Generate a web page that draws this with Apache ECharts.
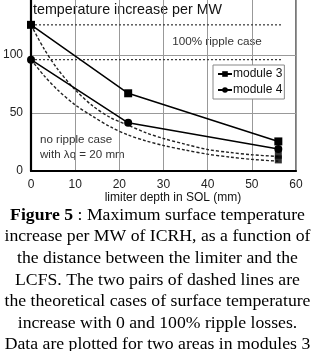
<!DOCTYPE html>
<html><head><meta charset="utf-8">
<script src="https://cdn.jsdelivr.net/npm/echarts@6/dist/echarts.min.js"></script>
<style>html,body{margin:0;padding:0;background:#fff;}#c{width:315px;height:351px;}</style>
</head><body><div id="c"></div>
<script>
// Data
var xTicks = [0, 10, 20, 30, 40, 50, 60];
var yTicks = [0, 50, 100, 150];
var depthMeasured = [0, 22, 56];
var module3 = [126, 67, 25.5];
var module4 = [96, 41.5, 19];
var depthTheory = [0, 3, 6, 10, 14, 18, 22, 26, 30, 35, 40, 45, 50, 56];
var noRippleHigh = [126, 105, 88, 70, 56, 46, 39.5, 33, 28, 23, 18.5, 16, 14, 12.5];
var noRippleLow = [96, 82, 70, 57, 47, 38, 31, 26, 22, 18, 14.5, 12, 10, 8.5];
var rippleDepth = [0, 56.7];
var rippleHigh = [126, 126];
var rippleLow = [96, 96];
var extraDepth = [56, 56];
var extraValues = [14, 10];
var captionLines = [
  "Maximum surface temperature",
  "increase per MW of ICRH, as a function of",
  "the distance between the limiter and the",
  "LCFS. The two pairs of dashed lines are",
  "the theoretical cases of surface temperature",
  "increase with 0 and 100% ripple losses.",
  "Data are plotted for two areas in modules 3"
];

function pairs(xs, ys){ return xs.map(function(x,i){return [x, ys[i]];}); }

var chart = echarts.init(document.getElementById('c'));
var sans = 'Liberation Sans, Arial, sans-serif';
var serif = 'Liberation Serif, Times New Roman, serif';
var dashStyle = {color:'#222', width:1.4, type:[3,2]};
var graphics = [
  {type:'text', left:33, top:3, style:{text:'temperature increase per MW', font:'14.3px '+sans, fill:'#111'}},
  {type:'text', x:217, y:42, style:{text:'100% ripple case', font:'11.7px '+sans, fill:'#333', align:'center', verticalAlign:'middle'}},
  {type:'text', x:40, y:140, style:{text:'no ripple case', font:'11.6px '+sans, fill:'#333', align:'left', verticalAlign:'middle'}},
  {type:'text', x:40, y:155, style:{text:'with \u03bbq = 20 mm', font:'11.6px '+sans, fill:'#333', align:'left', verticalAlign:'middle'}},
  {type:'text', x:173, y:198, style:{text:'limiter depth in SOL (mm)', font:'12px '+sans, fill:'#111', align:'center', verticalAlign:'middle'}}
];
var capY = [215, 236.7, 258.3, 280, 301.7, 323.3, 344.5];
captionLines.forEach(function(t,i){
  if(i===0){
    graphics.push({type:'text', x:157.5, y:capY[i], style:{
      text:'{b|Figure 5} : ' + t, align:'center', verticalAlign:'middle', fill:'#000', font:'17.7px '+serif,
      rich:{b:{fontWeight:'bold', fontFamily:serif, fontSize:17.7}}}});
  } else {
    graphics.push({type:'text', x:157.5, y:capY[i], style:{text:t, align:'center', verticalAlign:'middle', fill:'#000', font:'17.7px '+serif}});
  }
});

chart.setOption({
  animation:false,
  backgroundColor:'#fff',
  grid:{left:31, right:19, top:-3, bottom:180, outerBoundsMode:'none', containLabel:false, show:true, borderColor:'#222', borderWidth:1.2, backgroundColor:'transparent'},
  xAxis:{type:'value', min:xTicks[0], max:xTicks[xTicks.length-1], interval:10,
    axisLine:{show:true, onZero:false, lineStyle:{color:'#000', width:2.2}},
    axisTick:{show:false},
    axisLabel:{color:'#222', fontSize:12, fontFamily:sans, margin:8},
    splitLine:{show:true, lineStyle:{color:'#999', width:1}}},
  yAxis:{type:'value', min:yTicks[0], max:yTicks[yTicks.length-1], interval:50,
    axisLine:{show:true, onZero:false, lineStyle:{color:'#000', width:2.2}},
    axisTick:{show:false},
    axisLabel:{color:'#222', fontSize:12, fontFamily:sans, margin:8},
    splitLine:{show:true, lineStyle:{color:'#999', width:1}}},
  legend:{show:true, left:213, top:65, orient:'vertical', itemGap:4, itemWidth:14, itemHeight:7,
    padding:[3,2,3,4], borderColor:'#888', borderWidth:1, backgroundColor:'#fff',
    textStyle:{fontSize:12, fontFamily:sans, color:'#111', padding:[0,0,0,-4]},
    data:['module 3','module 4']},
  graphic:graphics,
  series:[
    {name:'ripple100a', type:'line', data:pairs(rippleDepth, rippleHigh), symbol:'none', lineStyle:{color:'#333', width:1.2, type:[2,2]}, z:2},
    {name:'ripple100b', type:'line', data:pairs(rippleDepth, rippleLow), symbol:'none', lineStyle:{color:'#333', width:1.2, type:[2,2]}, z:2},
    {name:'noRippleHigh', type:'line', data:pairs(depthTheory, noRippleHigh), symbol:'none', smooth:0.3, lineStyle:dashStyle, z:3},
    {name:'noRippleLow', type:'line', data:pairs(depthTheory, noRippleLow), symbol:'none', smooth:0.3, lineStyle:dashStyle, z:3},
    {name:'extra', type:'scatter', data:pairs(extraDepth, extraValues), symbol:'rect', symbolSize:[7,8], itemStyle:{color:'#000'}, z:4},
    {name:'module 3', type:'line', data:pairs(depthMeasured, module3), symbol:'rect', symbolSize:8, showAllSymbol:true,
      lineStyle:{color:'#000', width:1.5}, itemStyle:{color:'#000'}, z:5},
    {name:'module 4', type:'line', data:pairs(depthMeasured, module4), symbol:'circle', symbolSize:8, showAllSymbol:true,
      lineStyle:{color:'#000', width:1.5}, itemStyle:{color:'#000'}, z:5}
  ]
});
</script></body></html>
